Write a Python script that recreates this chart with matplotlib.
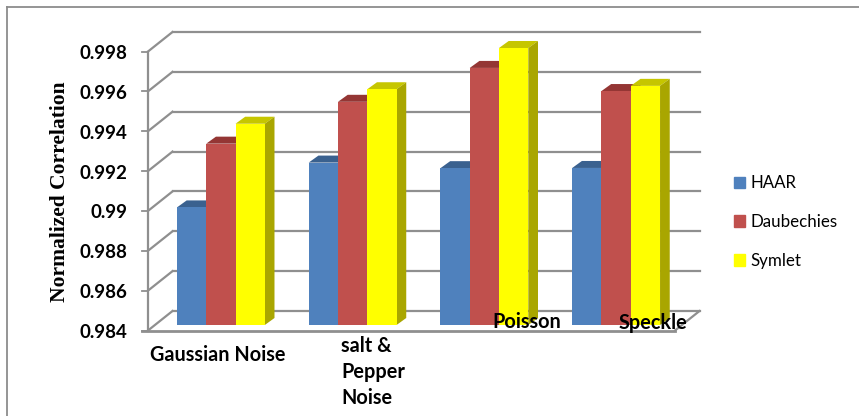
import matplotlib
matplotlib.use("Agg")
from matplotlib import pyplot as plt
from matplotlib.patches import Polygon
from matplotlib.transforms import Affine2D

categories = ['Gaussian Noise', 'salt &\nPepper\nNoise', 'Poisson', 'Speckle']
series_names = ['HAAR', 'Daubechies', 'Symlet']
haar = [0.9899, 0.99215, 0.99187, 0.99188]
daubechies = [0.9931, 0.9952, 0.9969, 0.99574]
symlet = [0.9941, 0.99583, 0.9979, 0.9960]
y_ticks = [0.984, 0.986, 0.988, 0.99, 0.992, 0.994, 0.996, 0.998]
y_tick_labels = ['0.984', '0.986', '0.988', '0.99', '0.992', '0.994', '0.996', '0.998']

W, H = 859, 416
front_colors = ['#4F81BD', '#C0504D', '#FFFF00']
top_colors = ['#3A618F', '#943634', '#C6C600']
side_colors = ['#3A618F', '#8F3A38', '#A9A600']
GRID = '#8F8F8F'

fig = plt.figure(figsize=(W / 100, H / 100), dpi=100)
# axes = front plane of the fake 3d box
left, right, bottom, top = 148, 675, 330.5, 51.5
ax = fig.add_axes([left / W, 1 - bottom / H, (right - left) / W, (bottom - top) / H])
ax.set_xlim(0, 4)
ax.set_ylim(0.984, 0.998)
ax.axis('off')


def shifted(dx, dy):
    # data coords moved by some pixels, dy is up
    return ax.transData + Affine2D().translate(dx, dy)


# window border of the picture
fig.add_artist(plt.Line2D([7 / W, 7 / W], [0, 1 - 7 / H], color='#8C8C8C', lw=1.3))
fig.add_artist(plt.Line2D([7 / W, 1], [1 - 7 / H, 1 - 7 / H], color='#8C8C8C', lw=1.3))

# walls
wall_dx, wall_dy = 24.5, 19.5
for v, lab in zip(y_ticks, y_tick_labels):
    line = plt.Line2D([0, 4], [v, v], color=GRID, lw=1.6, clip_on=False,
                      transform=shifted(wall_dx, wall_dy))
    ax.add_line(line)
    # little diagonal from the axis to the back wall
    p0 = ax.transData.transform((0, v))
    diag = plt.Line2D([p0[0], p0[0] + wall_dx], [p0[1], p0[1] + wall_dy], color=GRID, lw=1.6,
                      transform=None, clip_on=False)
    ax.add_line(diag)
    tick = plt.Line2D([p0[0] - 6, p0[0]], [p0[1], p0[1]], color=GRID, lw=1.3,
                      transform=None, clip_on=False)
    ax.add_line(tick)
    ax.text(-0.159, v, lab, ha='right', va='center', transform=shifted(0, -2),
            family='Lato', weight='bold', fontsize=13.5, color='black')

ax.plot([0, 0], [0.984, 0.998], color=GRID, lw=1.6, clip_on=False)
ax.plot([-0.045, 4], [0.984, 0.984], color=GRID, lw=2, clip_on=False)
p1 = ax.transData.transform((4, 0.984))
ax.add_line(plt.Line2D([p1[0], p1[0] + wall_dx], [p1[1], p1[1] + wall_dy], color=GRID, lw=1.6,
                       transform=None, clip_on=False))

# bars, front face sits a bit inside the floor
bar_w = 2 / 9
off_x, off_y = 7, 5.5
d_x, d_y = 9.7, 7
all_values = [haar, daubechies, symlet]
for s, values in enumerate(all_values):
    for c, v in enumerate(values):
        x0 = c + 1 / 6 + s * bar_w
        x1 = x0 + bar_w
        ax.bar(x0, v - 0.984, bar_w, bottom=0.984, align='edge', color=front_colors[s],
               transform=shifted(off_x, off_y), clip_on=False, zorder=3 + s + 3 * c)
        a = ax.transData.transform((x0, v)) + (off_x, off_y)
        b = ax.transData.transform((x1, v)) + (off_x, off_y)
        f = ax.transData.transform((x1, 0.984)) + (off_x, off_y)
        ax.add_patch(Polygon([a, b, b + (d_x, d_y), a + (d_x, d_y)], closed=True, lw=0,
                             color=top_colors[s], transform=None, clip_on=False,
                             zorder=2.9 + s + 3 * c))
        ax.add_patch(Polygon([f, b, b + (d_x, d_y), f + (d_x, d_y)], closed=True, lw=0,
                             color=side_colors[s], transform=None, clip_on=False,
                             zorder=2.9 + s + 3 * c))

# category labels are placed by hand in the original, they do not line up
label_pos = [(150, 355, 'left', 'center'), (341, 372, 'left', 'center'),
             (492, 322, 'left', 'center'), (619, 323, 'left', 'center')]
for name, (px, py, ha, va) in zip(categories, label_pos):
    fig.text(px / W, 1 - py / H, name, ha=ha, va=va, family='Lato', weight='bold',
             fontsize=14.3, color='black', linespacing=1.38, zorder=50)

fig.text(60 / W, 1 - 192 / H, 'Normalized Correlation', rotation=90, ha='center', va='center',
         family='Liberation Serif', weight='bold', fontsize=15.5, color='black')

handles = [plt.Rectangle((0, 0), 1, 1, color=col) for col in front_colors]
fig.legend(handles, series_names, loc='center left', bbox_to_anchor=(734 / W, 1 - 222 / H),
           frameon=False, prop={'family': 'Lato', 'size': 12.2}, handlelength=0.65, handleheight=0.65,
           handletextpad=0.3, labelspacing=1.35, borderpad=0, borderaxespad=0)

fig.savefig('out.png', dpi=100)
